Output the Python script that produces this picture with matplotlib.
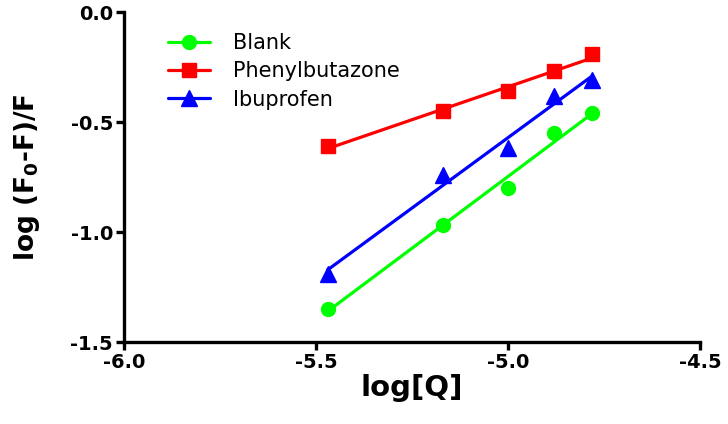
import numpy as np
import matplotlib.pyplot as plt

# log[Q] values (same for all three series)
log_q = [-5.47, -5.17, -5.00, -4.88, -4.78]

blank = [-1.35, -0.97, -0.80, -0.55, -0.46]
phenylbutazone = [-0.61, -0.45, -0.36, -0.27, -0.19]
ibuprofen = [-1.19, -0.74, -0.62, -0.38, -0.31]

series_names = ["Blank", "Phenylbutazone", "Ibuprofen"]
x_ticks = [-6.0, -5.5, -5.0, -4.5]
y_ticks = [-1.5, -1.0, -0.5, 0.0]


def main():
    fig = plt.figure(figsize=(7.28, 4.24), dpi=100)
    ax = fig.add_axes([124 / 728, 1 - 342 / 424, 576 / 728, 330 / 424])

    styles = [("#00ff00", "o", 10), ("#ff0000", "s", 10), ("#0000ff", "^", 11)]
    handles = []
    x = np.array(log_q)
    for ys, (color, marker, ms) in zip([blank, phenylbutazone, ibuprofen], styles):
        slope, icpt = np.polyfit(x, ys, 1)
        xs = np.array([x.min(), x.max()])
        (ln,) = ax.plot(xs, slope * xs + icpt, color=color, lw=2.3, solid_capstyle="round")
        (mk,) = ax.plot(x, ys, ls="none", marker=marker, ms=ms, color=color)
        handles.append((ln, mk))

    ax.set_xlim(-6.0, -4.5)
    ax.set_ylim(-1.5, 0.0)
    ax.set_xticks(x_ticks)
    ax.set_yticks(y_ticks)
    ax.set_xticklabels([f"{t:.1f}" for t in x_ticks], fontweight="bold", fontsize=14)
    ax.set_yticklabels([f"{t:.1f}" for t in y_ticks], fontweight="bold", fontsize=14)

    for side in ["top", "right"]:
        ax.spines[side].set_visible(False)
    for side in ["left", "bottom"]:
        ax.spines[side].set_linewidth(2.4)
    ax.tick_params(width=2.4, length=6, pad=2)

    ax.set_xlabel("log[Q]", fontsize=21, fontweight="bold", labelpad=1)
    ax.set_ylabel(r"log (F$_\mathbf{0}$-F)/F", fontsize=19, fontweight="bold", labelpad=20)

    ax.legend(handles, series_names, loc="upper left", bbox_to_anchor=(168 / 728, 1 - 33 / 424),
              bbox_transform=fig.transFigure, frameon=False, fontsize=15,
              handlelength=2.0, handletextpad=1.1, labelspacing=0.4, borderpad=0,
              borderaxespad=0)

    fig.savefig("out.png", dpi=100)


if __name__ == "__main__":
    main()
